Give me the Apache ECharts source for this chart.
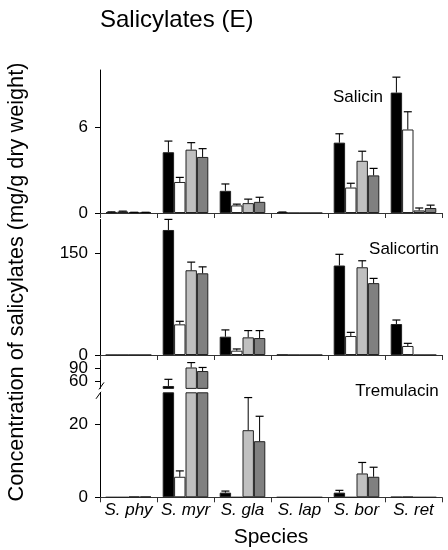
<!DOCTYPE html>
<html>
<head>
<meta charset="utf-8">
<script src="https://cdn.jsdelivr.net/npm/echarts@6/dist/echarts.min.js"></script>
<style>
html,body{margin:0;padding:0;background:#fff;}
#chart{width:448px;height:550px;}
</style>
</head>
<body>
<div id="chart"></div>
<script>
// ---------- DATA ----------
const categories = ['S. phy', 'S. myr', 'S. gla', 'S. lap', 'S. bor', 'S. ret'];
const groupNames = ['Group 1', 'Group 2', 'Group 3', 'Group 4'];

// Salicin (mg/g)
const salicin1 = [0.05, 4.25, 1.55, 0.05, 4.92, 8.42];
const salicin2 = [0.10, 2.17, 0.53, 0, 1.78, 5.84];
const salicin3 = [0.04, 4.43, 0.69, 0, 3.65, 0.18];
const salicin4 = [0.04, 3.92, 0.78, 0, 2.63, 0.35];
const salicin1SE = [0.03, 0.78, 0.48, 0.02, 0.62, 1.08];
const salicin2SE = [0.03, 0.32, 0.09, 0, 0.30, 1.24];
const salicin3SE = [0.01, 0.49, 0.28, 0, 0.67, 0.17];
const salicin4SE = [0.01, 0.58, 0.32, 0, 0.49, 0.20];

// Salicortin (mg/g)
const salicortin1 = [0, 184.4, 27, 0.5, 132, 45.7];
const salicortin2 = [0, 45.2, 6.4, 0, 28, 13.3];
const salicortin3 = [0, 125, 26, 0, 129.4, 0];
const salicortin4 = [0, 120.5, 25, 0, 106, 0];
const salicortin1SE = [0, 15.6, 10, 0, 16.5, 5.9];
const salicortin2SE = [0, 4.5, 2.5, 0, 5.4, 3.9];
const salicortin3SE = [0, 12, 10, 0, 9.6, 0];
const salicortin4SE = [0, 9.5, 11, 0, 7, 0];

// Tremulacin (mg/g)
const tremulacin1 = [0, 50.4, 1.27, 0, 1.27, 0.1];
const tremulacin2 = [0, 5.6, 0, 0, 0, 0.15];
const tremulacin3 = [0.2, 92, 18.3, 0, 6.5, 0];
const tremulacin4 = [0.2, 84, 15.3, 0, 5.6, 0];
const tremulacin1SE = [0, 15, 0.43, 0, 0.63, 0];
const tremulacin2SE = [0, 1.6, 0, 0, 0, 0];
const tremulacin3SE = [0, 11, 8.9, 0, 3, 0];
const tremulacin4SE = [0, 8, 6.8, 0, 2.6, 0];

// tick labels
const salicinTicks = [0, 6];
const salicortinTicks = [0, 150];
const tremUpperTicks = [60];
const tremUpperTicks2 = [90];
const tremLowerTicks = [0, 20];

// ---------- STYLE / LAYOUT ----------
const FONT = "'Liberation Sans', Arial, sans-serif";
const colors = ['#000000', '#ffffff', '#c0c0c0', '#808080'];
const GL = 100, GR = 6;
const grids = [
  {top: 70, height: 143},      // salicin
  {top: 219.4, height: 135.6}, // salicortin
  {top: 355, height: 33.4},    // tremulacin upper (broken)
  {top: 392.8, height: 104.5}  // tremulacin lower
];
const yRanges = [[0, 10], [0, 200], [45, 120], [0, 28.5]];
const yTicks = [salicinTicks, salicortinTicks, tremUpperTicks, tremLowerTicks];

const panelMeans = [
  [salicin1, salicin2, salicin3, salicin4],
  [salicortin1, salicortin2, salicortin3, salicortin4],
  [tremulacin1, tremulacin2, tremulacin3, tremulacin4],
  [tremulacin1, tremulacin2, tremulacin3, tremulacin4]
];
const panelSE = [
  [salicin1SE, salicin2SE, salicin3SE, salicin4SE],
  [salicortin1SE, salicortin2SE, salicortin3SE, salicortin4SE],
  [tremulacin1SE, tremulacin2SE, tremulacin3SE, tremulacin4SE],
  [tremulacin1SE, tremulacin2SE, tremulacin3SE, tremulacin4SE]
];

const BAR_FRAC = 0.8; // 1 - barCategoryGap

const chart = echarts.init(document.getElementById('chart'), null, {renderer: 'canvas'});

const gridOpt = grids.map(g => ({left: GL, right: GR, top: g.top, height: g.height, containLabel: false}));

const xAxes = grids.map((g, k) => ({
  type: 'category',
  gridIndex: k,
  data: categories,
  boundaryGap: true,
  show: k !== 2,
  axisLine: {show: true, lineStyle: {color: '#333', width: 1}},
  axisTick: {show: true, length: 5, inside: false, lineStyle: {color: '#333'}},
  axisLabel: {
    show: k === 3, interval: 0, margin: 4,
    fontFamily: FONT, fontSize: 17, fontStyle: 'italic', color: '#000'
  },
  name: k === 3 ? 'Species' : '',
  nameLocation: 'middle',
  nameGap: 29,
  nameTextStyle: {fontFamily: FONT, fontSize: 21, color: '#000'}
}));

const yLabelStyle = {
  margin: 12, showMinLabel: true, showMaxLabel: true, hideOverlap: false,
  fontFamily: FONT, fontSize: 17, color: '#000', lineHeight: 12
};

const yAxes = grids.map((g, k) => ({
  type: 'value',
  gridIndex: k,
  min: yRanges[k][0],
  max: yRanges[k][1],
  splitLine: {show: false},
  axisLine: {show: true, lineStyle: {color: '#000', width: 1}},
  axisTick: {show: true, length: 5, customValues: yTicks[k], lineStyle: {color: '#000'}},
  axisLabel: Object.assign({customValues: yTicks[k]}, yLabelStyle)
}));
// second label axis on the upper (broken) tremulacin segment, so that the
// closely stacked "90" and "60" labels are both shown
yAxes.push({
  type: 'value',
  gridIndex: 2,
  position: 'left',
  offset: 0,
  min: yRanges[2][0],
  max: yRanges[2][1],
  splitLine: {show: false},
  axisLine: {show: false},
  axisTick: {show: true, length: 5, customValues: tremUpperTicks2, lineStyle: {color: '#000'}},
  axisLabel: Object.assign({customValues: tremUpperTicks2}, yLabelStyle)
});

const series = [];
for (let k = 0; k < 4; k++) {
  for (let s = 0; s < 4; s++) {
    series.push({
      type: 'bar',
      name: groupNames[s],
      xAxisIndex: k, yAxisIndex: k,
      data: panelMeans[k][s],
      barGap: '0%',
      barCategoryGap: '20%',
      clip: true,
      itemStyle: {color: colors[s], borderColor: '#222', borderWidth: 1},
      emphasis: {disabled: true},
      animation: false
    });
  }
  for (let s = 0; s < 4; s++) {
    const means = panelMeans[k][s], ses = panelSE[k][s];
    const errData = categories.map((c, i) => [i, means[i], means[i] + ses[i]]);
    series.push({
      type: 'custom',
      name: groupNames[s] + ' SE',
      xAxisIndex: k, yAxisIndex: k,
      data: errData,
      encode: {x: 0, y: [1, 2]},
      z: 5,
      animation: false,
      renderItem: (function (sIdx) {
        return function (params, api) {
          const cs = params.coordSys;
          const i = api.value(0), m = api.value(1), u = api.value(2);
          if (!(u > m)) return null;
          const p0 = api.coord([i, m]);
          const p1 = api.coord([i, u]);
          const bw = api.size([1, 0])[0] * BAR_FRAC / 4;
          const x = p0[0] + (sIdx - 1.5) * bw;
          const yTop = Math.max(p1[1], cs.y);
          const yBot = Math.min(p0[1], cs.y + cs.height);
          if (yTop >= yBot) return null;
          const children = [{
            type: 'line',
            shape: {x1: x, y1: yBot, x2: x, y2: yTop},
            style: {stroke: '#000', lineWidth: 1}
          }];
          if (p1[1] >= cs.y - 0.5) {
            children.push({
              type: 'line',
              shape: {x1: x - 4, y1: p1[1], x2: x + 4, y2: p1[1]},
              style: {stroke: '#000', lineWidth: 1.2}
            });
          }
          return {type: 'group', children: children};
        };
      })(s)
    });
  }
}

const upperBottom = grids[2].top + grids[2].height;
const lowerTop = grids[3].top;
const midPanelLabel = (text, x, y) => ({
  type: 'text', x: x, y: y,
  style: {text: text, font: '17px ' + FONT, fill: '#000', align: 'center', verticalAlign: 'middle'}
});

const option = {
  animation: false,
  backgroundColor: '#fff',
  title: {
    text: 'Salicylates (E)',
    left: 100, top: 8, padding: 0,
    textStyle: {fontFamily: FONT, fontSize: 24, fontWeight: 'normal', color: '#000'}
  },
  grid: gridOpt,
  xAxis: xAxes,
  yAxis: yAxes,
  series: series,
  graphic: [
    midPanelLabel('Salicin', 358, 97),
    midPanelLabel('Salicortin', 404, 249),
    midPanelLabel('Tremulacin', 397, 391),
    {
      type: 'text', x: 17, y: 282, rotation: Math.PI / 2,
      style: {text: 'Concentration of salicylates (mg/g dry weight)', font: '21.7px ' + FONT,
        fill: '#000', align: 'center', verticalAlign: 'middle'}
    },
    // axis break marks
    {
      type: 'line',
      shape: {x1: GL - 4, y1: lowerTop + 6, x2: GL + 1, y2: lowerTop - 1},
      style: {stroke: '#000', lineWidth: 1}
    },
    {
      type: 'line',
      shape: {x1: GL - 1, y1: upperBottom + 1, x2: GL + 4, y2: upperBottom - 6},
      style: {stroke: '#000', lineWidth: 1}
    }
  ]
};

chart.setOption(option);
</script>
</body>
</html>
